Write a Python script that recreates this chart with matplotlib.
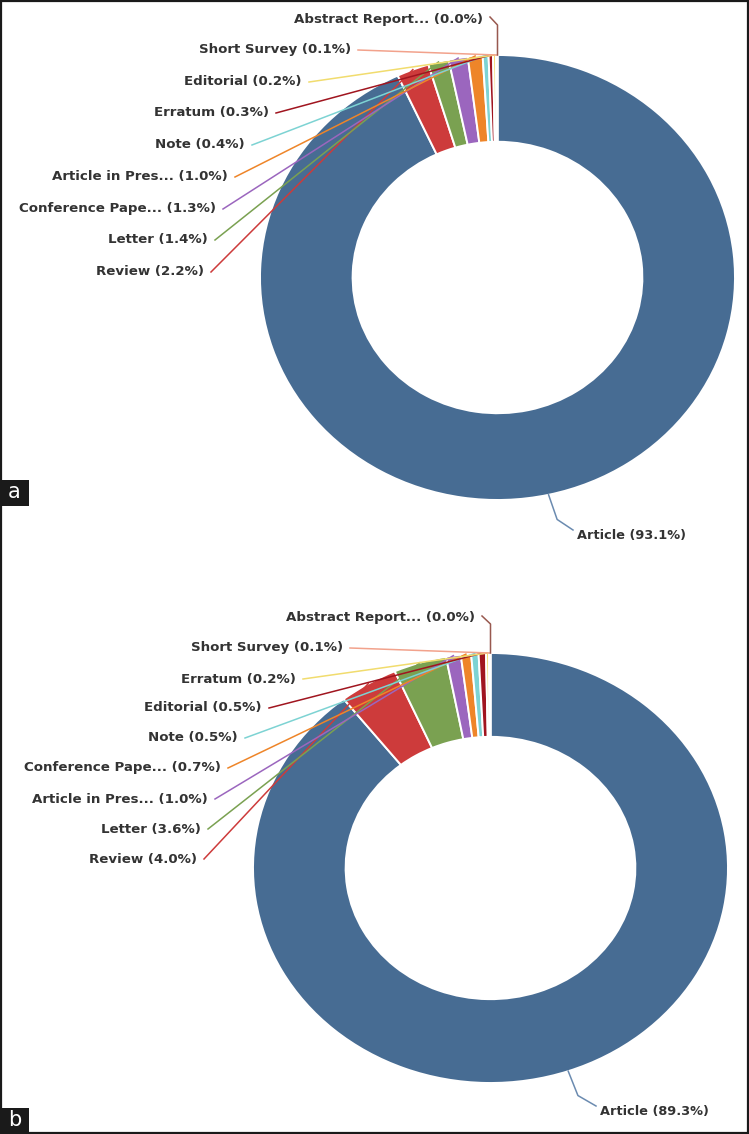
import matplotlib
matplotlib.use('Agg')
import matplotlib.pyplot as plt
import numpy as np
from matplotlib.patches import Rectangle

W, H = 749, 1134

# ---- data ----
names_a = ['Article', 'Review', 'Letter', 'Conference Pape...', 'Article in Pres...',
           'Note', 'Erratum', 'Editorial', 'Short Survey', 'Abstract Report...']
values_a = [93.1, 2.2, 1.4, 1.3, 1.0, 0.4, 0.3, 0.2, 0.1, 0.0]

names_b = ['Article', 'Review', 'Letter', 'Article in Pres...', 'Conference Pape...',
           'Note', 'Editorial', 'Erratum', 'Short Survey', 'Abstract Report...']
values_b = [89.3, 4.0, 3.6, 1.0, 0.7, 0.5, 0.5, 0.2, 0.1, 0.0]

colors = ['#476c93', '#cd3b3b', '#7aa151', '#9b66be', '#ee8529',
          '#7dd3d3', '#a0151f', '#f1dc6e', '#f2a28c', '#98594f']

# ---- layout (pixels) ----
# small labels: right end x and centre y, Review first, Abstract last
lab_x_a = [204, 208, 216, 228, 245, 269, 302, 351, 483]
lab_y_a = [272, 240, 209, 177, 145, 113, 82, 50, 19]
lab_x_b = [197, 201, 208, 221, 238, 262, 296, 343, 475]
lab_y_b = [859, 829, 799, 768, 738, 708, 679, 648, 618]

TXT = '#333333'
FS = 9.6


def draw_panel(fig, names, values, cx, cy, rx, ry, lab_x, lab_y, main_pos):
    ax = fig.add_axes([0, 0, 1, 1])
    ax.patch.set_alpha(0)
    wedges, _ = ax.pie(values, colors=colors, startangle=90, counterclock=False,
                       radius=1.0, normalize=True,
                       wedgeprops=dict(width=0.39, edgecolor='white', linewidth=1.4))
    ax.set_aspect('auto')
    ax.set_xlim(-cx / rx, (W - cx) / rx)
    ax.set_ylim((cy - H) / ry, cy / ry)
    ax.axis('off')

    def px(x, y):
        return (x - cx) / rx, (cy - y) / ry

    def edge_point(w):
        mid = np.deg2rad((w.theta1 + w.theta2) / 2)
        return cx + rx * np.cos(mid), cy - ry * np.sin(mid)

    # small slices, labelled on the left
    for i in range(1, len(values)):
        w = wedges[i]
        xr, yl = lab_x[i - 1], lab_y[i - 1]
        ax.text(*px(xr, yl), f'{names[i]} ({values[i]:.1f}%)', ha='right', va='center',
                fontsize=FS, fontweight='bold', color=TXT)
        ex, ey = edge_point(w)
        sx = xr + 7
        if abs(ex - sx) < 40:
            pts = [(sx, yl - 2), (ex, yl + 6), (ex, ey)]
        else:
            pts = [(sx, yl), (ex, ey)]
        dx, dy = zip(*[px(p, q) for p, q in pts])
        ax.plot(dx, dy, color=w.get_facecolor(), lw=1.1, clip_on=False)

    # main slice
    w = wedges[0]
    ex, ey = edge_point(w)
    tx, ty = main_pos
    ax.text(*px(tx, ty), f'{names[0]} ({values[0]:.1f}%)', ha='left', va='center',
            fontsize=FS - 0.3, fontweight='bold', color=TXT)
    mx, my = ex + 0.35 * (tx - 4 - ex), ey + 0.7 * (ty - 6 - ey)
    dx, dy = zip(*[px(p, q) for p, q in [(ex, ey), (mx, my), (tx - 4, ty - 6)]])
    ax.plot(dx, dy, color='#6b8bb0', lw=1.1, clip_on=False)


fig = plt.figure(figsize=(W / 100, H / 100), dpi=100)

draw_panel(fig, names_a, values_a, 497.5, 277.5, 237.5, 222.5, lab_x_a, lab_y_a, (577, 536))
draw_panel(fig, names_b, values_b, 490.5, 868, 237.5, 215, lab_x_b, lab_y_b, (600, 1112))

# frame and panel tags
top = fig.add_axes([0, 0, 1, 1])
top.patch.set_alpha(0)
top.set_xlim(0, W)
top.set_ylim(H, 0)
top.axis('off')
top.add_patch(Rectangle((1, 1), W - 2.5, H - 2.5, fill=False, edgecolor='#1a1a1a', lw=1.6))
for lab, y0 in [('a', 480), ('b', 1108)]:
    top.add_patch(Rectangle((0, y0), 29, 26, facecolor='#1a1a1a', edgecolor='none'))
    top.text(14.5, y0 + 12, lab, color='white', fontsize=15, ha='center', va='center')

fig.savefig('out.png', dpi=100)
